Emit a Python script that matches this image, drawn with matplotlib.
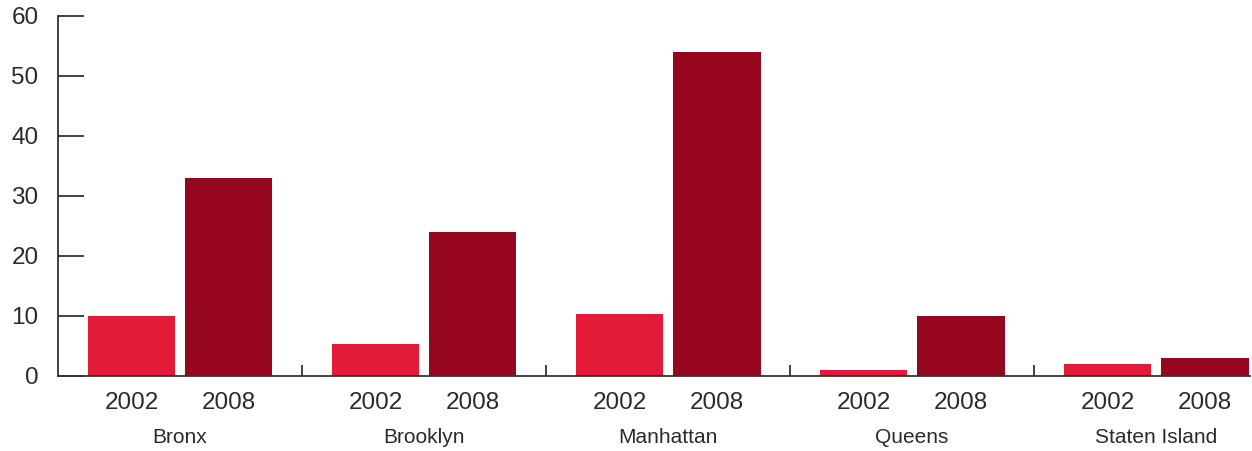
import matplotlib
matplotlib.use("Agg")
import matplotlib.pyplot as plt
import matplotlib.transforms as mtransforms
import numpy as np

boroughs = ["Bronx", "Brooklyn", "Manhattan", "Queens", "Staten Island"]
years = ["2002", "2008"]
values_2002 = [10, 5.4, 10.3, 1, 2]
values_2008 = [33, 24, 54, 10, 3]
yticks = [0, 10, 20, 30, 40, 50, 60]

plt.rcParams['font.family'] = ['Liberation Sans', 'DejaVu Sans']
text_color = "#2b2b2b"

fig = plt.figure(figsize=(12.52, 4.51), dpi=100)
ax = fig.add_axes([58 / 1252, 75 / 451, (1250 - 58) / 1252, (376 - 16) / 451])

x = np.arange(len(boroughs))
w = 0.36
off = 0.199
ax.bar(x - off, values_2002, width=w, color="#E31A38", zorder=2)
ax.bar(x + off, values_2008, width=w, color="#96061E", zorder=2)

ax.set_xlim(-0.5, 4.385)
ax.set_ylim(0, 60)
ax.set_yticks(yticks)
ax.set_yticklabels([str(t) for t in yticks], fontsize=17.5, color=text_color)
ax.tick_params(axis="y", direction="in", length=19, width=1.3, color="#333333", pad=14)

ax.set_xticks(x[:-1] + 0.5)
ax.set_xticklabels([])
ax.tick_params(axis="x", direction="in", length=8, width=1.3, color="#333333")

for s in ["top", "right"]:
    ax.spines[s].set_visible(False)
for s in ["left", "bottom"]:
    ax.spines[s].set_color("#333333")
    ax.spines[s].set_linewidth(1.3)

trans = mtransforms.blended_transform_factory(ax.transData, ax.transAxes)
for i, b in enumerate(boroughs):
    for j, (yr, o) in enumerate(zip(years, [-off, off])):
        ax.text(i + o, -0.075, yr, transform=trans, ha="center", va="center",
                fontsize=17.5, color=text_color)
    ax.text(i, -0.172, b, transform=trans, ha="center", va="center",
            fontsize=15, color=text_color)

fig.savefig("out.png", dpi=100)
